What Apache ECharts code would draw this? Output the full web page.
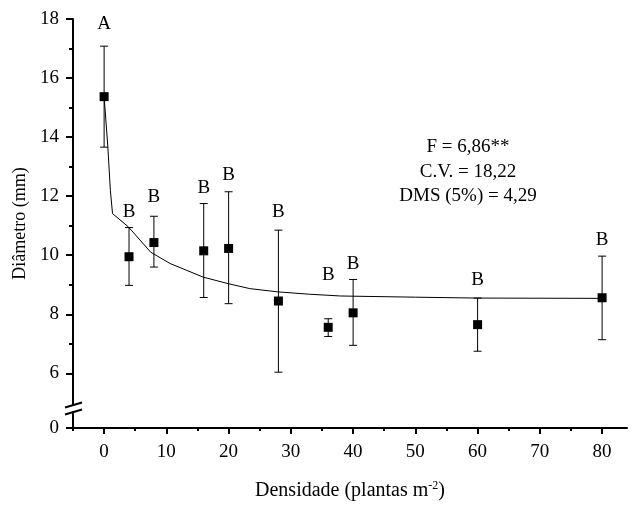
<!DOCTYPE html>
<html><head><meta charset="utf-8">
<script src="https://cdn.jsdelivr.net/npm/echarts@6/dist/echarts.min.js"></script>
<style>html,body{margin:0;padding:0;background:#fff}#c{width:642px;height:508px}</style>
</head><body><div id="c"></div>
<script>
// ---- data ----
const densidade = [0, 4, 8, 16, 20, 28, 36, 40, 60, 80];
const diametro  = [15.37, 9.95, 10.43, 10.15, 10.23, 8.45, 7.56, 8.05, 7.65, 8.56];
const limiteSup = [17.08, 10.94, 11.32, 11.75, 12.15, 10.85, 7.85, 9.18, 8.55, 9.97];
const limiteInf = [13.66, 8.98, 9.60, 8.57, 8.36, 6.04, 7.25, 6.95, 6.75, 7.14];
const letras    = ['A', 'B', 'B', 'B', 'B', 'B', 'B', 'B', 'B', 'B'];
const letraY    = [17.83, 11.47, 11.98, 12.29, 12.71, 11.47, 9.32, 9.71, 9.15, 10.51];
const ajusteX   = [0, 0.6, 1.0, 1.35, 3.9, 7.5, 10.6, 15.9, 19.9, 23.4, 27.9, 33, 38, 50, 60, 80];
const ajusteY   = [15.37, 13.67, 12.2, 11.41, 10.96, 10.1, 9.72, 9.26, 9.04, 8.87, 8.76, 8.68, 8.62, 8.58, 8.55, 8.54];
const xTicks      = [0, 10, 20, 30, 40, 50, 60, 70, 80];
const xMinorTicks = [-5, 5, 15, 25, 35, 45, 55, 65, 75];
const yTicks      = [6, 8, 10, 12, 14, 16, 18];
const yMinorTicks = [7, 9, 11, 13, 15, 17];
const yZeroPos    = 4.15;   // broken axis: where the "0" tick sits
const yBreakPos   = 4.81;   // broken axis: where the break marks sit
const estatisticas = ['F = 6,86**', 'C.V. = 18,22', 'DMS (5%) = 4,29'];

const font = 'Liberation Serif';
const black = '#000';
const chart = echarts.init(document.getElementById('c'));
const gridBox = {left: 73, right: 15, top: 19, bottom: 80, containLabel: false, outerBoundsMode: 'none'};
const grids = [0, 1, 2, 3].map(() => Object.assign({}, gridBox));
const hiddenX = g => ({type: 'value', gridIndex: g, min: -5, max: 84, show: false});
const yBase = g => ({type: 'value', gridIndex: g, min: yZeroPos, max: 18, position: 'left',
  splitLine: {show: false}, axisLine: {show: false, onZero: false}, axisTick: {show: false}, axisLabel: {show: false}});

const option = {
  animation: false,
  backgroundColor: '#fff',
  grid: grids,
  xAxis: [{
    type: 'value', gridIndex: 0, min: -5, max: 84, position: 'bottom',
    axisLine: {show: true, onZero: false, lineStyle: {color: black, width: 2}},
    axisTick: {show: true, customValues: xTicks, length: 6, lineStyle: {color: black, width: 2}},
    axisLabel: {customValues: xTicks, margin: 15, color: black, fontFamily: font, fontSize: 19},
    splitLine: {show: false},
    name: '{a|Densidade (plantas m}{s|-2}{a|)}',
    nameLocation: 'middle', nameGap: 52,
    nameTextStyle: {rich: {
      a: {fontFamily: font, fontSize: 20, color: black, lineHeight: 22},
      s: {fontFamily: font, fontSize: 12, color: black, lineHeight: 12, verticalAlign: 'top'}
    }}
  }, {
    type: 'value', gridIndex: 1, min: -5, max: 84, position: 'bottom',
    axisLine: {show: false, onZero: false},
    axisTick: {show: true, customValues: xMinorTicks, length: 3, lineStyle: {color: black, width: 2}},
    axisLabel: {show: false}, splitLine: {show: false}
  }, hiddenX(2), hiddenX(3)],
  yAxis: [
    // data axis (grid 0), not drawn
    Object.assign(yBase(0), {show: false}),
    // axis line + major ticks
    Object.assign(yBase(1), {
      axisLine: {show: true, onZero: false, lineStyle: {color: black, width: 2}},
      axisTick: {show: true, customValues: [yZeroPos].concat(yTicks), length: 7, lineStyle: {color: black, width: 2}}
    }),
    // tick labels + axis name
    Object.assign(yBase(2), {
      axisLabel: {show: true, customValues: [yZeroPos].concat(yTicks), margin: 14, color: black, fontFamily: font, fontSize: 19,
        formatter: v => (v < 5 ? '0' : String(Math.round(v)))},
      name: 'Diâmetro (mm)', nameLocation: 'middle', nameGap: 44,
      nameTextStyle: {fontFamily: font, fontSize: 18, color: black}
    }),
    // minor ticks
    Object.assign(yBase(3), {
      axisTick: {show: true, customValues: yMinorTicks, length: 4, lineStyle: {color: black, width: 2}}
    })
  ],
  series: [{
    type: 'line', xAxisIndex: 0, yAxisIndex: 0,
    data: ajusteX.map((x, i) => [x, ajusteY[i]]),
    showSymbol: false, smooth: false,
    lineStyle: {color: black, width: 1}, z: 2
  }, {
    type: 'custom', xAxisIndex: 0, yAxisIndex: 0,
    data: densidade.map((x, i) => [x, limiteInf[i], limiteSup[i]]),
    encode: {x: 0, y: [1, 2]},
    renderItem: function (params, api) {
      const x = api.value(0);
      const lo = api.coord([x, api.value(1)]);
      const hi = api.coord([x, api.value(2)]);
      const w = 4;
      const st = {stroke: black, lineWidth: 1};
      return {type: 'group', children: [
        {type: 'line', shape: {x1: lo[0], y1: lo[1], x2: hi[0], y2: hi[1]}, style: st},
        {type: 'line', shape: {x1: lo[0] - w, y1: lo[1], x2: lo[0] + w, y2: lo[1]}, style: st},
        {type: 'line', shape: {x1: hi[0] - w, y1: hi[1], x2: hi[0] + w, y2: hi[1]}, style: st}
      ]};
    }, z: 3
  }, {
    type: 'scatter', xAxisIndex: 0, yAxisIndex: 0,
    data: densidade.map((x, i) => [x, diametro[i]]),
    symbol: 'rect', symbolSize: 9,
    itemStyle: {color: black, opacity: 1}, z: 4
  }, {
    type: 'custom', xAxisIndex: 0, yAxisIndex: 0,
    data: densidade.map((x, i) => [x, letraY[i], i]),
    encode: {x: 0, y: 1},
    renderItem: function (params, api) {
      const p = api.coord([api.value(0), api.value(1)]);
      return {type: 'text', x: p[0], y: p[1], style: {
        text: letras[api.value(2)], textAlign: 'center', textVerticalAlign: 'middle',
        font: '19px "' + font + '"', fill: black
      }};
    }, z: 5
  }]
};
chart.setOption(option);

// broken-axis marks and statistics text
const ax = chart.convertToPixel({xAxisIndex: 1}, -5);
const yb = chart.convertToPixel({yAxisIndex: 1}, yBreakPos);
const graphics = [
  {type: 'rect', shape: {x: ax - 3, y: yb - 3, width: 6, height: 6}, style: {fill: '#fff'}, z: 100},
  {type: 'line', shape: {x1: ax - 8, y1: yb - 1, x2: ax + 9, y2: yb - 6}, style: {stroke: black, lineWidth: 2}, z: 101},
  {type: 'line', shape: {x1: ax - 8, y1: yb + 6, x2: ax + 9, y2: yb + 1}, style: {stroke: black, lineWidth: 2}, z: 101}
];
const statY = [147, 172, 196];
estatisticas.forEach((t, i) => {
  graphics.push({type: 'text', x: 468, y: statY[i], z: 100, style: {
    text: t, textAlign: 'center', textVerticalAlign: 'middle', font: '19px "' + font + '"', fill: black
  }});
});
chart.setOption({graphic: graphics});
</script></body></html>
